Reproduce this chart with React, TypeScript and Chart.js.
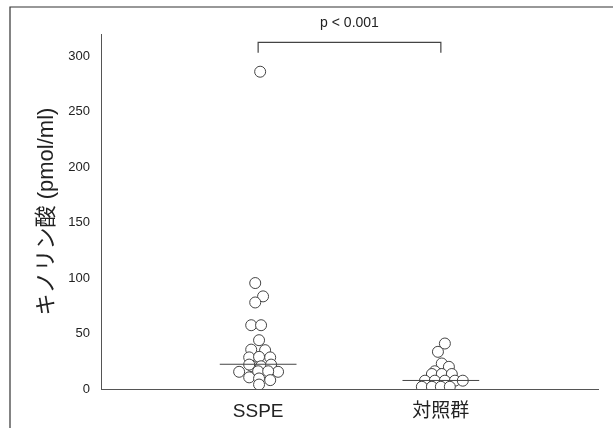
import React, { useEffect, useRef } from "react";
import { Chart, registerables } from "chart.js";

Chart.register(...registerables);

const categories = ["SSPE", "対照群"];
const yTicks = [0, 50, 100, 150, 200, 250, 300];
const yTitle = "キノリン酸 (pmol/ml)";
const pText = "p < 0.001";

const sspeValues = [286, 95.5, 83.5, 78, 57.5, 57.5, 44, 35.5, 35, 28.5, 29, 28.5, 20.5, 20.5, 22, 22, 15.5, 15.5, 16, 16, 10.5, 9.5, 8, 4];
const sspeJitter = [0.011, -0.016, 0.027, -0.016, -0.038, 0.016, 0.005, -0.038, 0.038, -0.049, 0.005, 0.066, -0.033, 0.016, 0.071, -0.049, -0.104, 0.109, 0, 0.055, -0.049, 0.005, 0.066, 0.005];

const controlValues = [41, 33.5, 23, 20, 16, 13.5, 13.5, 13.5, 7.5, 7.5, 7.5, 7.5, 7.5, 2, 2, 2, 2];
const controlJitter = [0.022, -0.016, 0.005, 0.044, -0.033, -0.049, 0.005, 0.06, -0.087, -0.033, 0.022, 0.077, 0.12, -0.104, -0.049, 0, 0.049];

const medians = [22.3, 7.7];
const medianHalfWidth = 0.21;

const FONT_LATIN = "'Liberation Sans', Arial, 'Noto Sans CJK JP', sans-serif";
const INK = "#222";
const LINE = "#555";

const framePlugin = {
  id: "frameAndBracket",
  afterDraw(chart: any) {
    const ctx = chart.ctx;
    const xs = chart.scales.x;
    const ys = chart.scales.y;
    ctx.save();
    // frame
    ctx.strokeStyle = "#333";
    ctx.lineWidth = 1.2;
    ctx.beginPath();
    ctx.moveTo(10, 428);
    ctx.lineTo(10, 7);
    ctx.lineTo(613, 7);
    ctx.stroke();
    // bracket
    const x1 = xs.getPixelForValue(1);
    const x2 = xs.getPixelForValue(2);
    const yTop = ys.getPixelForValue(312.5);
    const yBot = ys.getPixelForValue(303);
    ctx.strokeStyle = "#444";
    ctx.lineWidth = 1.2;
    ctx.beginPath();
    ctx.moveTo(x1, yBot);
    ctx.lineTo(x1, yTop);
    ctx.lineTo(x2, yTop);
    ctx.lineTo(x2, yBot);
    ctx.stroke();
    ctx.fillStyle = INK;
    ctx.font = "14px " + FONT_LATIN;
    ctx.textAlign = "center";
    ctx.textBaseline = "middle";
    ctx.fillText(pText, (x1 + x2) / 2, ys.getPixelForValue(330));
    ctx.restore();
  },
};

export default function App() {
  const ref = useRef<HTMLCanvasElement | null>(null);

  useEffect(() => {
    if (!ref.current) return;
    const pointStyle = {
      type: "scatter" as const,
      pointRadius: 5.5,
      pointHoverRadius: 5.5,
      backgroundColor: "#ffffff",
      borderColor: "#444",
      borderWidth: 1,
      order: 1,
    };
    const medianDatasets = medians.map((m, i) => ({
      type: "line" as const,
      data: [
        { x: i + 1 - medianHalfWidth, y: m },
        { x: i + 1 + medianHalfWidth, y: m },
      ],
      borderColor: "#444",
      borderWidth: 1,
      pointRadius: 0,
      showLine: true,
      fill: false,
      order: 0,
    }));
    const chart = new Chart(ref.current, {
      type: "scatter",
      data: {
        datasets: [
          ...medianDatasets,
          { ...pointStyle, label: categories[0], data: sspeValues.map((v, i) => ({ x: 1 + sspeJitter[i], y: v })) },
          { ...pointStyle, label: categories[1], data: controlValues.map((v, i) => ({ x: 2 + controlJitter[i], y: v })) },
        ] as any,
      },
      options: {
        animation: false,
        responsive: false,
        layout: { padding: { top: 34, right: 15, bottom: 0, left: 0 } },
        plugins: {
          legend: { display: false },
          tooltip: { enabled: false },
        },
        scales: {
          x: {
            type: "linear",
            min: 0.14,
            max: 2.86,
            grid: { display: false, drawTicks: false },
            border: { display: true, color: LINE, width: 1 },
            afterBuildTicks: (scale: any) => {
              scale.ticks = categories.map((_, i) => ({ value: i + 1 }));
            },
            afterFit: (scale: any) => {
              scale.height = 39;
            },
            ticks: {
              autoSkip: false,
              maxRotation: 0,
              padding: 11,
              color: INK,
              font: { family: FONT_LATIN, size: 19 },
              callback: (v: any) => categories[Math.round(Number(v)) - 1] ?? "",
            },
          },
          y: {
            type: "linear",
            min: 0,
            max: 320,
            grid: { display: false, drawTicks: false },
            border: { display: true, color: LINE, width: 1 },
            afterBuildTicks: (scale: any) => {
              scale.ticks = yTicks.map((v) => ({ value: v }));
            },
            afterFit: (scale: any) => {
              scale.width = 101;
            },
            ticks: {
              padding: 11,
              color: INK,
              font: { family: FONT_LATIN, size: 13 },
            },
            title: {
              display: true,
              text: yTitle,
              color: INK,
              font: { family: FONT_LATIN, size: 22 },
              padding: { top: 34, bottom: 0 },
            },
          },
        },
      },
      plugins: [framePlugin],
    });
    return () => chart.destroy();
  }, []);

  return (
    <div style={{ position: "fixed", left: 0, top: 0, width: 613, height: 428, background: "#fff" }}>
      <canvas ref={ref} width={613} height={428} style={{ display: "block" }} />
    </div>
  );
}
